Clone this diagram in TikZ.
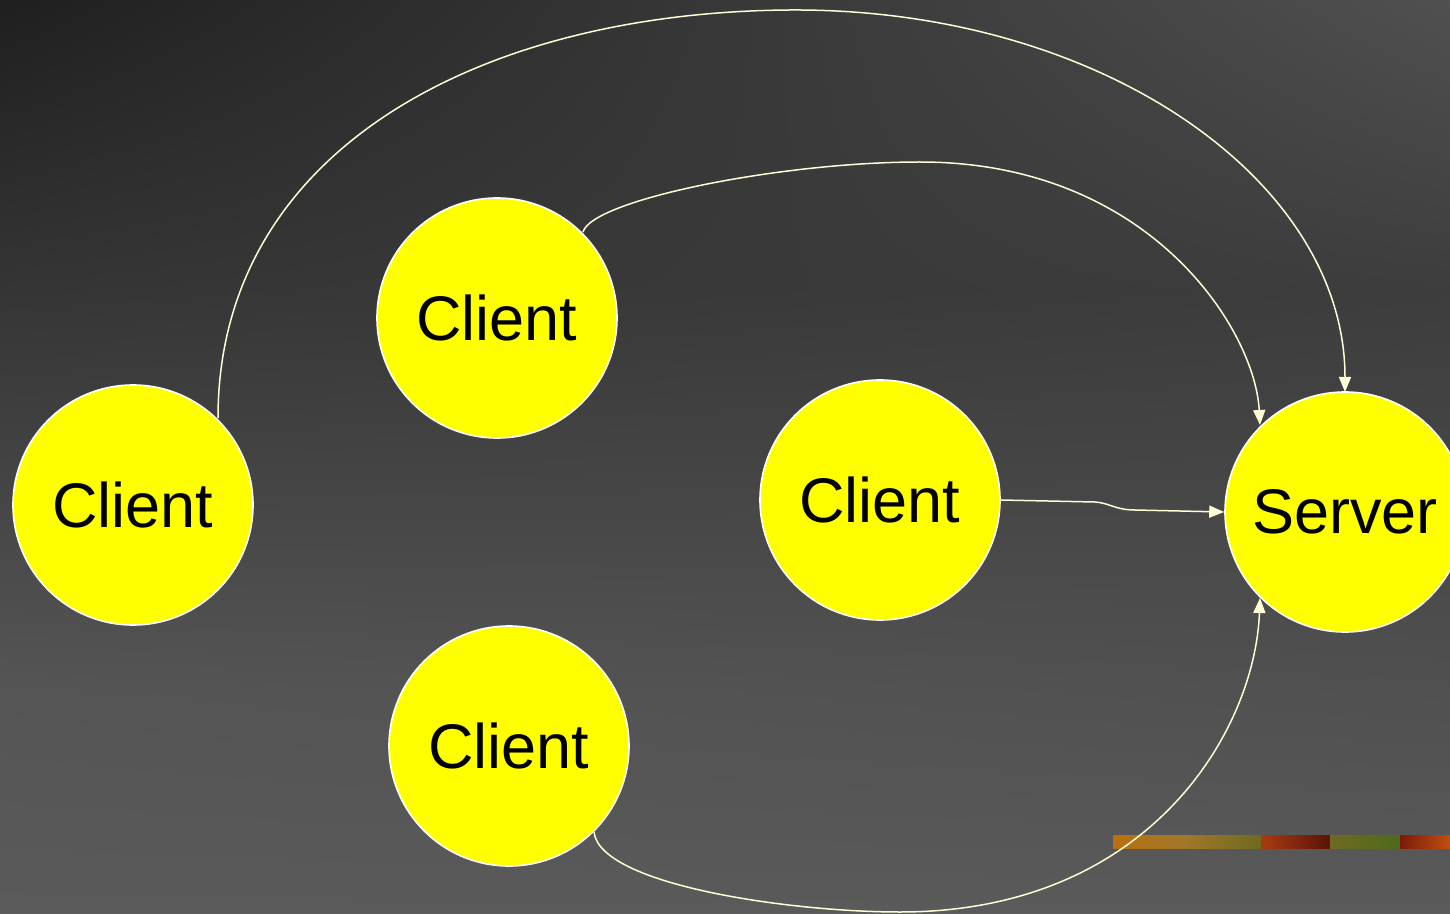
\documentclass[tikz,border=0pt]{standalone}
\usepackage{fontspec}
\setmainfont{Liberation Sans}
\usetikzlibrary{arrows.meta,shadings}

% background tones
\definecolor{bgA}{HTML}{1F1F1F}
\definecolor{bgB}{HTML}{505050}
\definecolor{bgC}{HTML}{353535}
\definecolor{bgD}{HTML}{3D3D3D}
\definecolor{bgE}{HTML}{555555}
\definecolor{bgF}{HTML}{505050}
\definecolor{bgG}{HTML}{5A5A5A}
% strip tones
\definecolor{stA}{HTML}{B8700F}
\definecolor{stB}{HTML}{A07828}
\definecolor{stC}{HTML}{6E6A22}
\definecolor{stD}{HTML}{A83C10}
\definecolor{stE}{HTML}{5A1208}
\definecolor{stF}{HTML}{4E6A1A}
\definecolor{stG}{HTML}{7A1A0A}
\definecolor{stH}{HTML}{C05010}
\definecolor{nodefill}{HTML}{FFFF00}
\definecolor{wire}{HTML}{FFFCD6}

\tikzset{
  peer/.style={circle, fill=nodefill, draw=white, line width=0.8pt,
    minimum size=120pt, inner sep=0pt, font=\fontsize{31.5}{36}\selectfont, text=black},
  link/.style={draw=wire, line width=0.75pt,
    -{Triangle[length=7.5pt,width=6pt]}},
}

\begin{document}
\begin{tikzpicture}[x=0.5pt, y=-0.5pt]
  % background in three bands
  \useasboundingbox (0,0) rectangle (1450,914);
  \shade[upper left=bgA, upper right=bgB, lower left=bgC, lower right=bgD]
    (0,0) rectangle (1450,291);
  \shade[upper left=bgC, upper right=bgD, lower left=bgE, lower right=bgF]
    (0,290) rectangle (1450,691);
  \shade[upper left=bgE, upper right=bgF, lower left=bgG, lower right=bgG]
    (0,690) rectangle (1450,914);

  % decorative strip
  \shade[left color=stA, right color=stB] (1113,835) rectangle (1186,848);
  \shade[left color=stB, right color=stC] (1185,835) rectangle (1262,848);
  \shade[left color=stD, right color=stE] (1261,835) rectangle (1331,848);
  \shade[left color=stC, right color=stF] (1330,835) rectangle (1401,848);
  \shade[left color=stG, right color=stH] (1400,835) rectangle (1450,848);

  % nodes
  \node[peer] (ca) at (133,505) {Client};
  \node[peer] (cb) at (497,318) {Client};
  \node[peer] (cc) at (880,500) {Client};
  \node[peer] (cd) at (509,746) {Client};
  \node[peer] (srv) at (1345,512) {Server};

  % connectors
  \path (ca.center) ++(85,-87) coordinate (a0);
  \path (srv.center) ++(0,-120) coordinate (s1);
  \draw[link] (a0) .. controls (218,150) and (480,12) .. (790,10)
     .. controls (1100,8) and (1345,180) .. (s1);

  \path (cb.center) ++(86,-86) coordinate (b0);
  \path (srv.center) ++(-85,-87) coordinate (s2);
  \draw[link] (b0) .. controls (592,200) and (780,162) .. (920,162)
     .. controls (1150,162) and (1255,330) .. (s2);

  \draw[link] (cc.east) -- (1095,502) .. controls (1110,503) and (1115,510) .. (1135,510) -- (srv.west);

  \path (cd.center) ++(85,86) coordinate (d0);
  \path (srv.center) ++(-85,86) coordinate (s3);
  \draw[link] (d0) .. controls (600,885) and (790,912) .. (900,912)
     .. controls (1150,912) and (1255,730) .. (s3);
\end{tikzpicture}
\end{document}
